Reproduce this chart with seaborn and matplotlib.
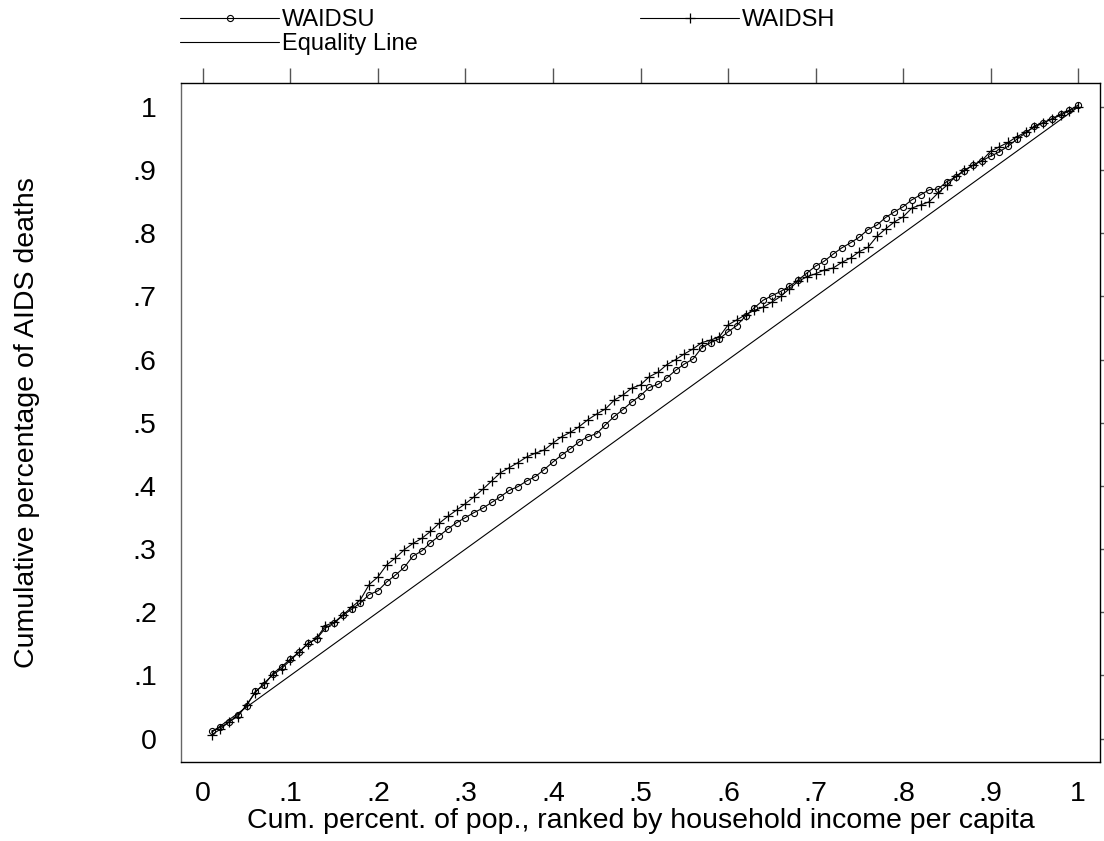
import matplotlib
matplotlib.use("Agg")
import matplotlib.pyplot as plt
from matplotlib.ticker import FuncFormatter
import seaborn as sns

# cumulative share of population (ranked by household income per capita)
pop_share = [round(0.01 * i, 2) for i in range(1, 101)]

# cumulative share of AIDS deaths
waidsu = [
    0.012, 0.018, 0.026, 0.038, 0.052, 0.075, 0.085, 0.103, 0.114, 0.126,
    0.137, 0.151, 0.158, 0.175, 0.183, 0.195, 0.205, 0.215, 0.228, 0.234,
    0.248, 0.259, 0.271, 0.289, 0.297, 0.310, 0.321, 0.332, 0.342, 0.350,
    0.358, 0.365, 0.374, 0.383, 0.393, 0.399, 0.408, 0.415, 0.426, 0.438,
    0.449, 0.459, 0.470, 0.478, 0.483, 0.497, 0.510, 0.521, 0.533, 0.543,
    0.556, 0.561, 0.571, 0.583, 0.593, 0.601, 0.619, 0.627, 0.633, 0.644,
    0.654, 0.669, 0.682, 0.694, 0.701, 0.708, 0.716, 0.726, 0.737, 0.748,
    0.756, 0.767, 0.777, 0.785, 0.794, 0.806, 0.813, 0.825, 0.834, 0.842,
    0.853, 0.861, 0.869, 0.870, 0.882, 0.889, 0.899, 0.908, 0.915, 0.922,
    0.929, 0.938, 0.949, 0.959, 0.970, 0.975, 0.981, 0.989, 0.995, 1.003,
]
waidsh = [
    0.006, 0.015, 0.027, 0.035, 0.054, 0.073, 0.088, 0.101, 0.111, 0.124,
    0.137, 0.150, 0.159, 0.179, 0.184, 0.196, 0.208, 0.220, 0.244, 0.256,
    0.275, 0.286, 0.299, 0.309, 0.317, 0.328, 0.341, 0.352, 0.362, 0.372,
    0.383, 0.395, 0.408, 0.421, 0.429, 0.437, 0.446, 0.452, 0.457, 0.468,
    0.478, 0.485, 0.494, 0.505, 0.514, 0.522, 0.536, 0.544, 0.555, 0.560,
    0.573, 0.580, 0.592, 0.600, 0.609, 0.617, 0.627, 0.631, 0.636, 0.655,
    0.663, 0.671, 0.678, 0.683, 0.691, 0.700, 0.712, 0.724, 0.731, 0.736,
    0.742, 0.745, 0.754, 0.761, 0.771, 0.778, 0.795, 0.807, 0.818, 0.826,
    0.840, 0.845, 0.850, 0.864, 0.876, 0.890, 0.900, 0.908, 0.915, 0.930,
    0.937, 0.944, 0.953, 0.960, 0.968, 0.975, 0.981, 0.987, 0.994, 1.000,
]
equality = list(pop_share)

ticks = [0, .1, .2, .3, .4, .5, .6, .7, .8, .9, 1]


def stata_label(v, pos=None):
    if abs(v) < 1e-9:
        return '0'
    if abs(v - 1) < 1e-9:
        return '1'
    return f'{v:.1f}'.lstrip('0')


def main():
    sns.set_style('white')
    plt.rcParams['font.family'] = ['Liberation Sans', 'DejaVu Sans']
    plt.rcParams['text.color'] = 'black'
    plt.rcParams['axes.labelcolor'] = 'black'
    plt.rcParams['xtick.labelcolor'] = 'black'
    plt.rcParams['ytick.labelcolor'] = 'black'

    fig = plt.figure(figsize=(11.04, 8.41), dpi=100)
    ax = fig.add_axes([181 / 1104, 1 - 762 / 841, 919 / 1104, 679 / 841])

    sns.lineplot(x=pop_share, y=waidsu, ax=ax, color='black', lw=0.8,
                 marker='o', markersize=4.4, markerfacecolor='none',
                 markeredgecolor='black', markeredgewidth=0.8, label='WAIDSU')
    sns.lineplot(x=pop_share, y=equality, ax=ax, color='black', lw=0.8,
                 label='Equality Line')
    sns.lineplot(x=pop_share, y=waidsh, ax=ax, color='black', lw=0.8,
                 marker='+', markersize=7.5, markeredgecolor='black',
                 markeredgewidth=0.9, label='WAIDSH')

    ax.set_xlim(-0.025, 1.025)
    ax.set_ylim(-0.037, 1.038)
    ax.set_xticks(ticks)
    ax.set_yticks(ticks)
    ax.xaxis.set_major_formatter(FuncFormatter(stata_label))
    ax.yaxis.set_major_formatter(FuncFormatter(stata_label))
    ax.tick_params(axis='both', direction='out', length=10.5, width=1,
                   color='#555555', labelsize=20.5, top=True, right=True,
                   labeltop=False, labelright=False)
    ax.tick_params(axis='x', pad=3)
    ax.tick_params(axis='y', pad=7)
    for sp in ax.spines.values():
        sp.set_visible(True)
        sp.set_color('black')
        sp.set_linewidth(1)
    ax.spines['left'].set_color('#666666')

    ax.set_xlabel('Cum. percent. of pop., ranked by household income per capita',
                  fontsize=20.5, labelpad=1)
    ax.set_ylabel('Cumulative percentage of AIDS deaths', fontsize=20.5)
    ax.yaxis.set_label_coords(-0.153, 0.5)

    handles, labels = ax.get_legend_handles_labels()
    ax.get_legend().remove()
    common = dict(loc='upper left', frameon=False, fontsize=17,
                  handlelength=4.2, handletextpad=0.12, borderpad=0,
                  borderaxespad=0, labelspacing=0.1, numpoints=1)
    # first column: WAIDSU over Equality Line, second column: WAIDSH
    fig.legend(handles[:2], labels[:2], bbox_to_anchor=(180 / 1104, 1 - 9 / 841),
               **common)
    fig.legend(handles[2:], labels[2:], bbox_to_anchor=(640 / 1104, 1 - 9 / 841),
               **common)

    fig.savefig('out.png', dpi=100, facecolor='white')


main()
